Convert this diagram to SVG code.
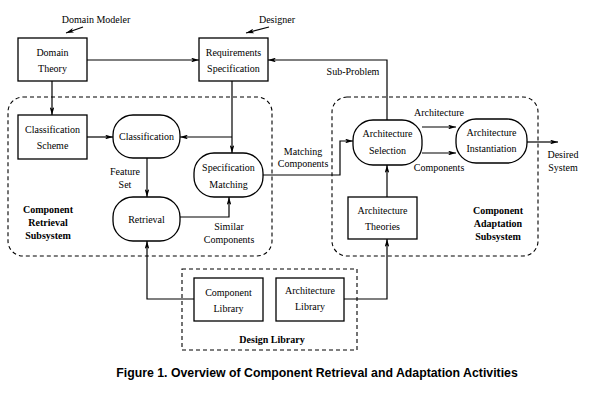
<svg xmlns="http://www.w3.org/2000/svg" width="594" height="404" viewBox="0 0 594 404">
  <defs>
    <marker id="arr" viewBox="0 0 10 6" refX="10" refY="3" markerWidth="8" markerHeight="4.8" markerUnits="userSpaceOnUse" orient="auto">
      <path d="M0,0 L10,3 L0,6 L2.5,3 Z" fill="#000"/>
    </marker>
  </defs>
  <style>
    text { font-family: "Liberation Serif", "Times New Roman", serif; font-size: 10px; fill: #000; text-anchor: middle; }
    .b { font-weight: bold; }
    .cap { font-family: "Liberation Sans", Arial, sans-serif; font-weight: bold; font-size: 12.3px; }
    .box { fill: #fff; stroke: #000; stroke-width: 1.3; }
    .grp { fill: none; stroke: #000; stroke-width: 1.1; stroke-dasharray: 4 3; }
    .ar { fill: none; stroke: #000; stroke-width: 1.2; marker-end: url(#arr); }
  </style>
  <rect width="594" height="404" fill="#fff"/>

  <!-- subsystem frames -->
  <g id="retrieval-subsystem">
    <rect class="grp" x="8" y="97" width="264" height="159" rx="15"/>
    <text class="b" x="48" y="213">Component</text>
    <text class="b" x="48" y="226">Retrieval</text>
    <text class="b" x="48" y="239">Subsystem</text>
  </g>
  <g id="adaptation-subsystem">
    <rect class="grp" x="332" y="97" width="206" height="159" rx="15"/>
    <text class="b" x="498" y="214">Component</text>
    <text class="b" x="498" y="227">Adaptation</text>
    <text class="b" x="498" y="240">Subsystem</text>
  </g>
  <g id="design-library">
    <rect class="grp" x="182" y="269" width="175" height="81"/>
    <text class="b" x="272" y="343">Design Library</text>
  </g>

  <!-- connectors -->
  <g id="connectors">
    <path class="ar" d="M83,27 L66,33"/>
    <path class="ar" d="M269,27 L246,33"/>
    <path class="ar" d="M87,60 L199,60"/>
    <path class="ar" d="M387,120 L387,60 L268,60"/>
    <path class="ar" d="M52,81 L52,115"/>
    <path class="ar" d="M232,81 L232,153"/>
    <path class="ar" d="M232,137 L180,137"/>
    <path class="ar" d="M87,137 L113,137"/>
    <path class="ar" d="M147,158 L147,197"/>
    <path class="ar" d="M180,217 L229,217 L229,197"/>
    <path class="ar" d="M263,175 L340,175 L340,141 L353,141"/>
    <path class="ar" d="M422,127 L456,127"/>
    <path class="ar" d="M422,153 L456,153"/>
    <path class="ar" d="M527,142 L558,142"/>
    <path class="ar" d="M387,197 L387,165"/>
    <path class="ar" d="M344,299 L387,299 L387,239"/>
    <path class="ar" d="M194,299 L147,299 L147,241"/>
    <text x="96" y="23">Domain Modeler</text>
    <text x="277" y="23">Designer</text>
    <text x="353" y="75">Sub-Problem</text>
    <text x="125" y="175">Feature</text>
    <text x="125" y="188">Set</text>
    <text x="229" y="230">Similar</text>
    <text x="229" y="243">Components</text>
    <text x="303" y="155">Matching</text>
    <text x="303" y="167">Components</text>
    <text x="439" y="116">Architecture</text>
    <text x="439" y="171">Components</text>
    <text x="563" y="158">Desired</text>
    <text x="563" y="171">System</text>
  </g>

  <!-- nodes -->
  <g id="domain-theory">
    <rect class="box" x="18" y="38" width="69" height="43"/>
    <text x="52.5" y="56">Domain</text>
    <text x="52.5" y="72">Theory</text>
  </g>
  <g id="requirements-specification">
    <rect class="box" x="199" y="38" width="69" height="43"/>
    <text x="233.5" y="56">Requirements</text>
    <text x="233.5" y="72">Specification</text>
  </g>
  <g id="classification-scheme">
    <rect class="box" x="18" y="115" width="69" height="44"/>
    <text x="52.5" y="133">Classification</text>
    <text x="52.5" y="149">Scheme</text>
  </g>
  <g id="classification">
    <rect class="box" x="113" y="115" width="67" height="43" rx="20"/>
    <text x="146.5" y="140">Classification</text>
  </g>
  <g id="specification-matching">
    <rect class="box" x="194" y="153" width="69" height="44" rx="20"/>
    <text x="228.5" y="171">Specification</text>
    <text x="228.5" y="188">Matching</text>
  </g>
  <g id="retrieval">
    <rect class="box" x="113" y="197" width="67" height="44" rx="20"/>
    <text x="146.5" y="223">Retrieval</text>
  </g>
  <g id="architecture-selection">
    <rect class="box" x="353" y="120" width="69" height="45" rx="20"/>
    <text x="387.5" y="137">Architecture</text>
    <text x="387.5" y="154">Selection</text>
  </g>
  <g id="architecture-instantiation">
    <rect class="box" x="456" y="119" width="71" height="44" rx="20"/>
    <text x="491.5" y="136">Architecture</text>
    <text x="491.5" y="152">Instantiation</text>
  </g>
  <g id="architecture-theories">
    <rect class="box" x="348" y="197" width="69" height="42"/>
    <text x="382.5" y="214">Architecture</text>
    <text x="382.5" y="230">Theories</text>
  </g>
  <g id="component-library">
    <rect class="box" x="194" y="278" width="69" height="43"/>
    <text x="228.5" y="296">Component</text>
    <text x="228.5" y="312">Library</text>
  </g>
  <g id="architecture-library">
    <rect class="box" x="276" y="278" width="68" height="43"/>
    <text x="310" y="294">Architecture</text>
    <text x="310" y="310">Library</text>
  </g>

  <text class="cap" x="317" y="377">Figure 1. Overview of Component Retrieval and Adaptation Activities</text>
</svg>
